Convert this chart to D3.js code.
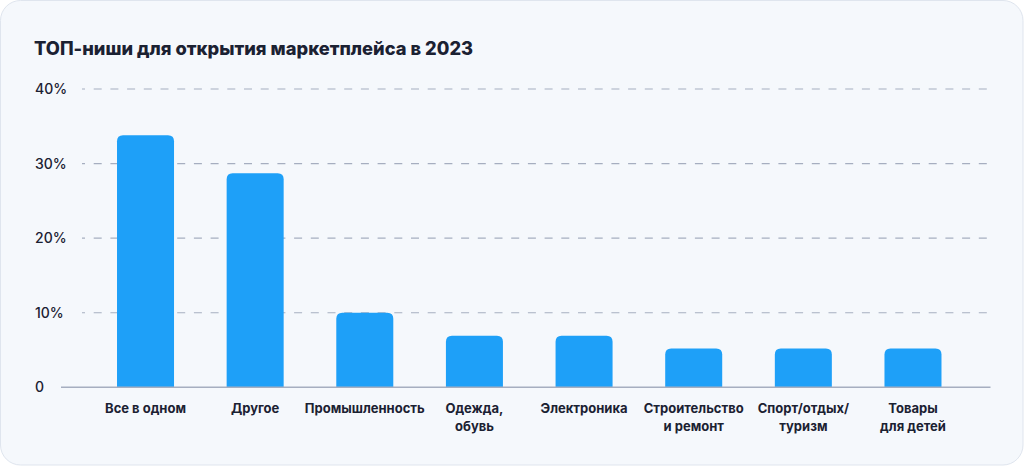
<!DOCTYPE html>
<html><head><meta charset="utf-8">
<script src="https://cdn.jsdelivr.net/npm/d3@7"></script>
<style>
html,body{margin:0;padding:0;background:#ffffff;}
svg{display:block;font-family:Inter,"Noto Sans",sans-serif;}
</style></head>
<body>
<svg id="chart" width="1024" height="466"></svg>
<script>
const title = "ТОП-ниши для открытия маркетплейса в 2023";
const categories = [
  ["Все в одном"],
  ["Другое"],
  ["Промышленность"],
  ["Одежда,", "обувь"],
  ["Электроника"],
  ["Строительство", "и ремонт"],
  ["Спорт/отдых/", "туризм"],
  ["Товары", "для детей"]
];
const values = [33.8, 28.7, 10, 6.9, 6.9, 5.2, 5.2, 5.2];
const yTicks = [0, 10, 20, 30, 40];
const yTickLabels = ["0", "10%", "20%", "30%", "40%"];

const svg = d3.select("#chart");
// card
svg.append("rect").attr("x",0.5).attr("y",0.5).attr("width",1022.5).attr("height",464.5)
  .attr("rx",20).attr("fill","#f5f8fc").attr("stroke","#dfe5ee").attr("stroke-width",1);

svg.append("text").attr("x",34).attr("y",55).text(title)
  .attr("font-size",18.3).attr("font-weight",800).attr("fill","#1b2132");

const y = d3.scaleLinear().domain([0,40]).range([387.3,89]);
const x = d3.scaleBand().domain(d3.range(categories.length)).range([90.7,967.8])
  .paddingInner(0.48).paddingOuter(0.24);

// grid
const grid = svg.append("g");
yTicks.filter(t=>t>0).forEach(t=>{
  grid.append("line").attr("x1",82).attr("x2",990.5).attr("y1",y(t)).attr("y2",y(t))
    .attr("stroke","#a6aec0").attr("stroke-width",1.2).attr("stroke-dasharray","8,8.7")
    .attr("stroke-dashoffset",5);
});
// y labels
yTicks.forEach((t,i)=>{
  svg.append("text").attr("x",35).attr("y",y(t)).attr("dy","0.36em")
    .attr("font-size",14).attr("font-weight",500).attr("fill","#1b2132").text(yTickLabels[i]);
});

// bars with rounded top corners
const r = 6;
svg.append("g").selectAll("path").data(values).join("path")
  .attr("fill","#1ea0f8")
  .attr("d",(d,i)=>{
    const x0 = x(i), w = x.bandwidth(), y0 = y(d), yb = y(0);
    return `M${x0},${yb}V${y0+r}Q${x0},${y0} ${x0+r},${y0}H${x0+w-r}Q${x0+w},${y0} ${x0+w},${y0+r}V${yb}Z`;
  });

// baseline
svg.append("line").attr("x1",61).attr("x2",990.5).attr("y1",y(0)).attr("y2",y(0))
  .attr("stroke","#a6aec0").attr("stroke-width",1.5);

// x labels
categories.forEach((lines,i)=>{
  const t = svg.append("text").attr("text-anchor","middle")
    .attr("font-size",13).attr("font-weight",700).attr("fill","#1b2132");
  lines.forEach((s,j)=>{
    t.append("tspan").attr("x",x(i)+x.bandwidth()/2).attr("y",413+j*18).text(s);
  });
});
</script>
</body></html>
